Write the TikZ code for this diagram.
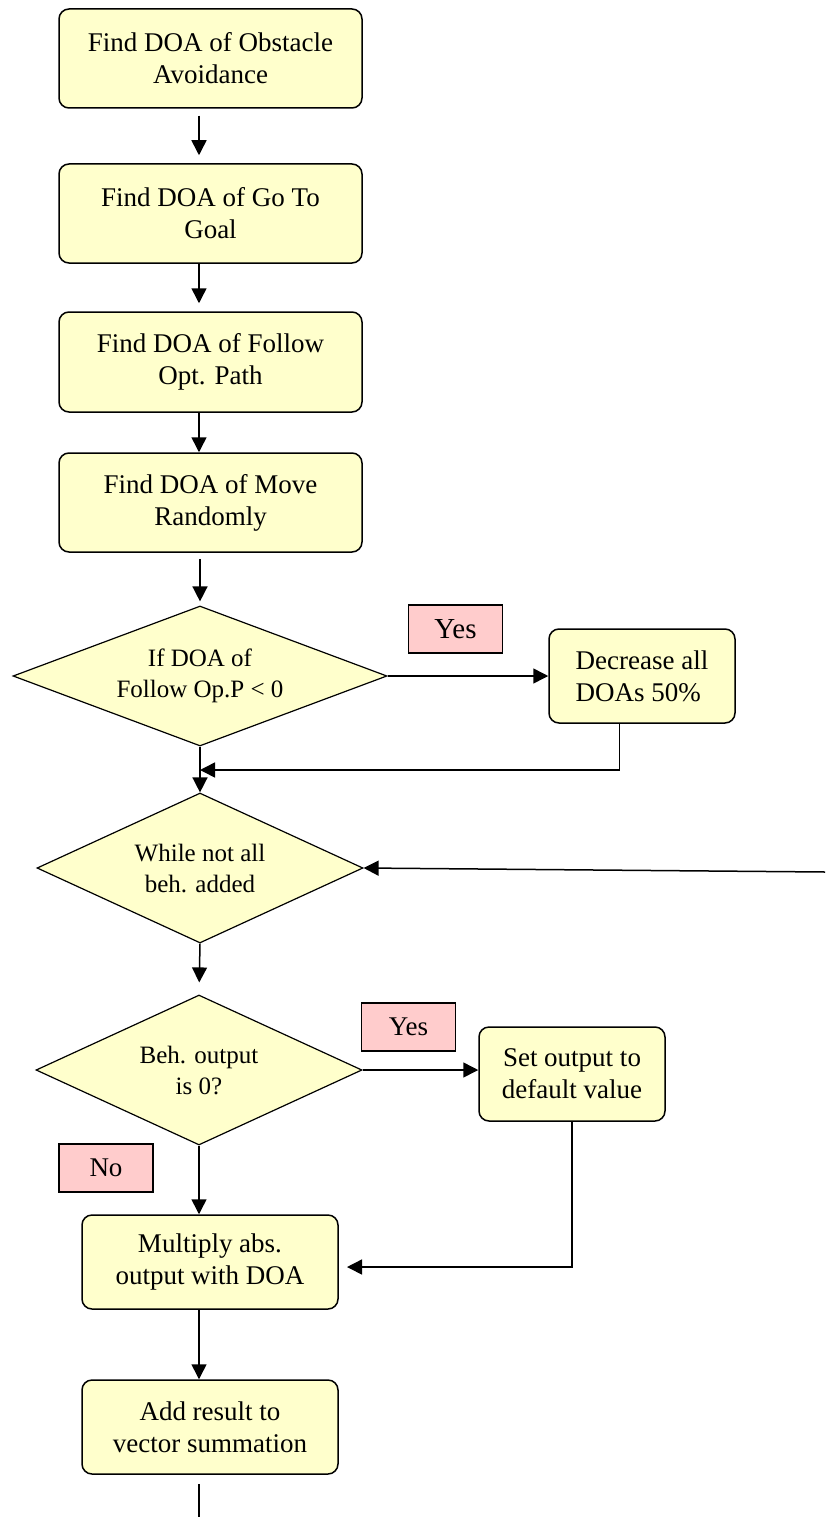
\documentclass[tikz,border=0pt]{standalone}
\usepackage{fontspec}
\setmainfont{Liberation Serif}
\usetikzlibrary{shapes.geometric,arrows.meta,calc}
\definecolor{boxfill}{RGB}{255,255,204}
\definecolor{tagfill}{RGB}{255,204,204}
\begin{document}
\begin{tikzpicture}[x=1pt,y=-1pt,
  every node/.style={font=\fontsize{27}{32}\selectfont, align=center, inner sep=0pt},
  proc/.style={draw, line width=1.5pt, fill=boxfill, rounded corners=10pt,
               minimum width=303pt, minimum height=99pt},
  dec/.style={draw, diamond, line width=1.2pt, fill=boxfill,
              font=\fontsize{25}{31}\selectfont},
  tag/.style={draw, line width=1.3pt, fill=tagfill, minimum width=94pt, minimum height=48pt,
              font=\fontsize{27}{32}\selectfont},
  arr/.style={line width=1.5pt, -{Triangle[length=15pt,width=15pt]}},
  ln/.style={line width=1.5pt}]
\useasboundingbox (0,0) rectangle (825,1517);

% main column of process boxes
\node[proc] (b1) at (210.5,58.5) {Find DOA of Obstacle\\Avoidance};
\node[proc] (b2) at (210.5,213.5) {Find DOA of Go To\\Goal};
\node[proc, minimum height=100pt] (b3) at (210.5,362) {Find DOA of Follow\\Opt. Path};
\node[proc] (b4) at (210.5,502.5) {Find DOA of Move\\Randomly};

\coordinate (ax) at (199,0);
\draw[arr, shorten <=7pt, shorten >=8pt] (b1.south -| ax) -- (b2.north -| ax);
\draw[arr, shorten >=8pt] (b2.south -| ax) -- (b3.north -| ax);
\draw[arr] (b3.south -| ax) -- (b4.north -| ax);

% first decision
\node[dec, minimum width=374pt, minimum height=140pt, aspect=2.67] (d1) at (200,676)
  {If DOA of\\Follow Op.P < 0};
\draw[arr, shorten <=6pt, shorten >=4pt] (b4.south -| d1.north) -- (d1.north);

\node[tag, font=\fontsize{29}{32}\selectfont] (y1) at (455.5,629) {Yes};
\node[proc, minimum width=186pt, minimum height=94pt, align=left] (dc) at (642,676)
  {Decrease all\\DOAs 50\%};
\draw[arr] (d1.east) -- (dc.west);

% merge back into the main line
\coordinate (m1) at (200,770);
\draw[arr] ([xshift=-22.5pt]dc.south) |- (m1);

% loop head
\node[dec, minimum width=326pt, minimum height=150pt, aspect=2.17] (d2) at (200,868)
  {While not all\\beh. added};
\draw[arr] (d1.south) -- (d2.north);
\coordinate (lp) at (825,872);
\draw[arr] (lp) -- (d2.east);

% output check
\node[dec, minimum width=326pt, minimum height=150pt, aspect=2.17] (d3) at (199,1070)
  {Beh. output\\is 0?};
\draw[arr, shorten >=12pt] (d2.south) -- (d3.north);

\node[tag] (y2) at (408.5,1027) {Yes};
\node[proc, minimum width=186pt, minimum height=94pt] (so) at (572,1074)
  {Set output to\\default value};
\draw[arr] (d3.east) -- (d3.east -| so.west);

\node[tag] (no) at (106,1168) {No};
\node[proc, minimum width=256pt, minimum height=94pt] (mu) at (210,1262)
  {Multiply abs.\\output with DOA};
\draw[arr] (d3.south) -- (d3.south |- mu.north);

\coordinate (mj) at (338,1267);
\draw[arr, shorten >=9pt] (so.south) |- (mj);

\node[proc, minimum width=256pt, minimum height=94pt] (ad) at (210,1427)
  {Add result to\\vector summation};
\draw[arr] (mu.south -| ax) -- (ad.north -| ax);

\coordinate (end) at (199,1517);
\draw[ln, shorten <=9pt] (ad.south -| ax) -- (end);
\end{tikzpicture}
\end{document}
